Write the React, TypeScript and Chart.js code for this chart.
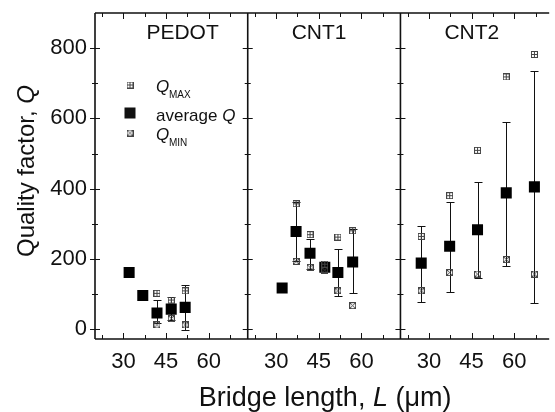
import React, { useEffect, useRef } from 'react';
import { Chart, registerables } from 'chart.js';
Chart.register(...registerables);

// ---------- data ----------
const panelNames = ['PEDOT', 'CNT1', 'CNT2'];

const pedotL = [32, 36.8, 41.8, 46.8, 51.7];
const pedotAvg = [161, 96, 46, 57, 62];
const pedotMax = [null, null, 102, 83, 109];
const pedotMin = [null, null, 12, 30, 12];
const pedotErrHigh = [null, null, 83, 92, 126];
const pedotErrLow = [null, null, 17, 27, -2];

const cnt1L = [32.1, 37, 41.9, 47.1, 51.7, 56.9];
const cnt1Avg = [117, 278, 216, 176, 161, 191];
const cnt1Max = [null, 357, 269, 185, 262, 280];
const cnt1Min = [null, 193, 176, 168, 109, 67];
const cnt1ErrHigh = [null, 361, 256, 187, 228, 285];
const cnt1ErrLow = [null, 193, 171, 165, 95, 103];

const cnt2L = [27.3, 37.3, 47.1, 57.2, 67.1];
const cnt2Avg = [188, 236, 283, 388, 405];
const cnt2Max = [264, 380, 509, 718, 782];
const cnt2Min = [109, 161, 157, 198, 157];
const cnt2ErrHigh = [295, 361, 419, 590, 734];
const cnt2ErrLow = [76, 105, 145, 180, 74];

const xTickLabels = [30, 45, 60];
const yTickLabels = [0, 200, 400, 600, 800];

// ---------- layout constants ----------
const X0 = 20; // panel start value
const SPAN = 53.7; // panel width in µm units
const X_MAX = 179;
const Y_MIN = -28;
const Y_MAX = 900;
const FONT = '"Liberation Sans", Arial, Helvetica, sans-serif';
const INK = '#111';

const panels = [
  { L: pedotL, avg: pedotAvg, max: pedotMax, min: pedotMin, hi: pedotErrHigh, lo: pedotErrLow },
  { L: cnt1L, avg: cnt1Avg, max: cnt1Max, min: cnt1Min, hi: cnt1ErrHigh, lo: cnt1ErrLow },
  { L: cnt2L, avg: cnt2Avg, max: cnt2Max, min: cnt2Min, hi: cnt2ErrHigh, lo: cnt2ErrLow },
];

function makeMarker(kind: 'max' | 'min'): HTMLCanvasElement {
  const c = document.createElement('canvas');
  c.width = 7;
  c.height = 7;
  const g = c.getContext('2d')!;
  g.strokeStyle = '#444';
  g.lineWidth = 1;
  g.strokeRect(0.5, 0.5, 6, 6);
  g.beginPath();
  if (kind === 'max') {
    g.moveTo(3.5, 0.5); g.lineTo(3.5, 6.5);
    g.moveTo(0.5, 3.5); g.lineTo(6.5, 3.5);
  } else {
    g.moveTo(1, 1); g.lineTo(6, 6);
    g.moveTo(6, 1); g.lineTo(1, 6);
  }
  g.stroke();
  return c;
}

function drawRich(ctx: CanvasRenderingContext2D, parts: { t: string; italic?: boolean }[], size: number, x: number, y: number, align: 'left' | 'center') {
  const widths = parts.map(p => {
    ctx.font = `${p.italic ? 'italic ' : ''}${size}px ${FONT}`;
    return ctx.measureText(p.t).width;
  });
  const total = widths.reduce((a, b) => a + b, 0);
  let cx = align === 'center' ? x - total / 2 : x;
  ctx.textAlign = 'left';
  ctx.textBaseline = 'alphabetic';
  parts.forEach((p, i) => {
    ctx.font = `${p.italic ? 'italic ' : ''}${size}px ${FONT}`;
    ctx.fillText(p.t, cx, y);
    cx += widths[i];
  });
}

export default function App() {
  const ref = useRef<HTMLCanvasElement>(null);

  useEffect(() => {
    const canvas = ref.current!;
    const maxImg = makeMarker('max');
    const minImg = makeMarker('min');

    const avgData: { x: number; y: number }[] = [];
    const maxData: { x: number; y: number }[] = [];
    const minData: { x: number; y: number }[] = [];
    const errData: { x: number; lo: number; hi: number }[] = [];
    panels.forEach((p, k) => {
      p.L.forEach((l, i) => {
        const x = l + k * SPAN;
        avgData.push({ x, y: p.avg[i] });
        if (p.max[i] != null) maxData.push({ x, y: p.max[i] as number });
        if (p.min[i] != null) minData.push({ x, y: p.min[i] as number });
        if (p.hi[i] != null && p.lo[i] != null) errData.push({ x, lo: p.lo[i] as number, hi: p.hi[i] as number });
      });
    });

    const errorBars = {
      id: 'errorBars',
      beforeDatasetsDraw(chart: any) {
        const { ctx, scales } = chart;
        const xs = scales.x, ys = scales.y;
        ctx.save();
        ctx.strokeStyle = INK;
        ctx.lineWidth = 1;
        errData.forEach(e => {
          const px = Math.round(xs.getPixelForValue(e.x)) + 0.5;
          const t = Math.round(ys.getPixelForValue(e.hi)) + 0.5;
          const b = Math.round(ys.getPixelForValue(e.lo)) + 0.5;
          ctx.beginPath();
          ctx.moveTo(px, t); ctx.lineTo(px, b);
          ctx.moveTo(px - 4, t); ctx.lineTo(px + 4, t);
          ctx.moveTo(px - 4, b); ctx.lineTo(px + 4, b);
          ctx.stroke();
        });
        ctx.restore();
      },
    };

    const frame = {
      id: 'frame',
      afterDraw(chart: any) {
        const { ctx, chartArea, scales } = chart;
        const xs = scales.x, ys = scales.y;
        const { left, right, top, bottom } = chartArea;
        ctx.save();
        ctx.strokeStyle = INK;
        // ticks
        ctx.lineWidth = 1;
        ctx.beginPath();
        for (let k = 0; k < 3; k++) {
          for (let v = 22.5; v < SPAN + X0; v += 7.5) {
            const px = Math.round(xs.getPixelForValue(v + k * SPAN)) + 0.5;
            if (px > right) continue;
            const major = xTickLabels.includes(v);
            const len = major ? 6 : 4;
            ctx.moveTo(px, bottom); ctx.lineTo(px, bottom - len);
            ctx.moveTo(px, top); ctx.lineTo(px, top + len);
          }
        }
        const verticals = [0, 1, 2].map(k => xs.getPixelForValue(X0 + k * SPAN));
        for (let v = 0; v <= 800; v += 100) {
          const py = Math.round(ys.getPixelForValue(v)) + 0.5;
          const major = v % 200 === 0;
          const len = major ? 5 : 3;
          verticals.forEach(vx => {
            ctx.moveTo(vx - len, py); ctx.lineTo(vx + len, py);
          });
        }
        ctx.stroke();
        // borders and dividers
        ctx.lineWidth = 1.6;
        ctx.beginPath();
        ctx.moveTo(left, top); ctx.lineTo(right + 2, top);
        ctx.moveTo(left, bottom); ctx.lineTo(right + 2, bottom);
        verticals.forEach(vx => {
          ctx.moveTo(vx, top); ctx.lineTo(vx, bottom);
        });
        ctx.stroke();

        // panel titles
        ctx.fillStyle = INK;
        ctx.font = `21px ${FONT}`;
        ctx.textAlign = 'center';
        ctx.textBaseline = 'alphabetic';
        const titleOffsets = [30.8, 25.1, 25.1];
        panelNames.forEach((n, k) => {
          ctx.fillText(n, xs.getPixelForValue(X0 + k * SPAN + titleOffsets[k]), top + 26);
        });

        // legend
        const lx = 130;
        ctx.drawImage(maxImg, lx - 3.5, 81.5);
        ctx.fillRect(lx - 5.5, 107.5, 11, 11);
        ctx.drawImage(minImg, lx - 3.5, 129.5);
        ctx.textAlign = 'left';
        ctx.font = `italic 17px ${FONT}`;
        ctx.fillText('Q', 156, 92);
        ctx.fillText('Q', 156, 140);
        ctx.font = `10px ${FONT}`;
        ctx.fillText('MAX', 169, 98);
        ctx.fillText('MIN', 169, 146);
        drawRich(ctx, [{ t: 'average ' }, { t: 'Q', italic: true }], 17, 156, 121, 'left');

        // axis titles
        drawRich(ctx, [{ t: 'Bridge length, ' }, { t: 'L', italic: true }, { t: ' (\u03bcm)' }], 27, (left + right) / 2 + 4, 406, 'center');
        ctx.save();
        ctx.translate(34, 171);
        ctx.rotate(-Math.PI / 2);
        drawRich(ctx, [{ t: 'Quality factor, ' }, { t: 'Q', italic: true }], 24, 0, 0, 'center');
        ctx.restore();
        ctx.restore();
      },
    };

    const chart = new Chart(canvas, {
      type: 'scatter',
      data: {
        datasets: [
          {
            label: 'QMAX',
            data: maxData,
            pointStyle: maxImg as any,
            pointRadius: 4,
            showLine: false,
          },
          {
            label: 'QMIN',
            data: minData,
            pointStyle: minImg as any,
            pointRadius: 4,
            showLine: false,
          },
          {
            label: 'average Q',
            data: avgData,
            pointStyle: 'rect',
            pointRadius: 7.8,
            backgroundColor: '#000',
            borderColor: '#000',
            borderWidth: 0,
            showLine: false,
          },
        ],
      },
      options: {
        animation: false,
        responsive: false,
        devicePixelRatio: 1,
        layout: { padding: { top: 13, right: 1, left: 0, bottom: 0 } },
        plugins: { legend: { display: false }, tooltip: { enabled: false } },
        scales: {
          x: {
            type: 'linear',
            min: X0,
            max: X_MAX,
            grid: { display: false, drawTicks: false },
            border: { display: false },
            afterBuildTicks: (s: any) => {
              s.ticks = panels.flatMap((_, k) => xTickLabels.map(v => ({ value: v + k * SPAN })));
            },
            afterFit: (s: any) => {
              s.height = 73;
              s.paddingLeft = 0; s.paddingRight = 0; s.paddingTop = 0; s.paddingBottom = 0;
            },
            ticks: {
              autoSkip: false,
              maxRotation: 0,
              padding: 10,
              color: INK,
              font: { family: FONT, size: 22 },
              callback: (v: any) => {
                const k = Math.floor((v - X0) / SPAN);
                return String(Math.round(v - k * SPAN));
              },
            },
          },
          y: {
            type: 'linear',
            min: Y_MIN,
            max: Y_MAX,
            grid: { display: false, drawTicks: false },
            border: { display: false },
            afterBuildTicks: (s: any) => {
              s.ticks = yTickLabels.map(v => ({ value: v }));
            },
            afterFit: (s: any) => {
              s.width = 95;
              s.paddingLeft = 0; s.paddingRight = 0; s.paddingTop = 0; s.paddingBottom = 0;
            },
            ticks: {
              padding: 8,
              color: INK,
              font: { family: FONT, size: 22 },
            },
          },
        },
      },
      plugins: [errorBars, frame],
    });
    return () => chart.destroy();
  }, []);

  return (
    <div style={{ position: 'absolute', left: 0, top: 0, width: 555, height: 412, background: '#fff' }}>
      <canvas ref={ref} width={555} height={412} style={{ display: 'block' }} />
    </div>
  );
}
